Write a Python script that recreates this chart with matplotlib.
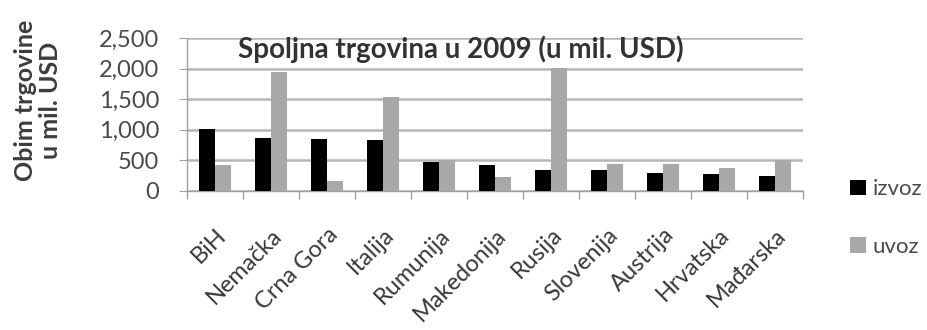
import matplotlib
matplotlib.use("Agg")
import matplotlib.pyplot as plt
import matplotlib.transforms as mtransforms
import numpy as np
from matplotlib.ticker import FuncFormatter, FixedLocator

plt.rcParams['font.family'] = ['Lato', 'DejaVu Sans']

countries = ["BiH", "Nemačka", "Crna Gora", "Italija", "Rumunija", "Makedonija",
             "Rusija", "Slovenija", "Austrija", "Hrvatska", "Mađarska"]
izvoz = [1010, 870, 850, 830, 475, 425, 345, 345, 295, 280, 250]
uvoz = [425, 1945, 160, 1540, 500, 230, 2010, 440, 440, 375, 500]
yticks = [0, 500, 1000, 1500, 2000, 2500]

W, H = 928, 330
fig = plt.figure(figsize=(W / 100, H / 100), dpi=100)
ax = fig.add_axes([187 / W, 1 - 191 / H, (803 - 187) / W, (191 - 38) / H])

x = np.arange(len(countries))
w = 0.29
ax.bar(x - w / 2, izvoz, w, color="black", label="izvoz", zorder=3)
ax.bar(x + w / 2, uvoz, w, color="#a8a8a8", label="uvoz", zorder=3)

ax.set_xlim(-0.5, len(countries) - 0.5)
ax.set_ylim(0, 2500)
ax.set_yticks(yticks)
ax.yaxis.set_major_formatter(FuncFormatter(lambda v, p: f"{int(v):,}"))
ax.grid(axis="y", color="#b5b5b5", linewidth=1.8, zorder=0)

ax.set_xticks(x)
ax.set_xticklabels(countries, rotation=45, ha="right", va="top",
                   rotation_mode="anchor", fontsize=17, color="#383838")
shift = mtransforms.ScaledTranslation(4 / 100, 0, fig.dpi_scale_trans)
for lbl in ax.get_xticklabels():
    lbl.set_transform(lbl.get_transform() + shift)
ax.xaxis.set_minor_locator(FixedLocator(np.arange(-0.5, len(countries), 1)))
ax.tick_params(axis="x", which="major", length=0, pad=24)
ax.tick_params(axis="x", which="minor", length=6, color="#a0a0a0", width=1)
ax.tick_params(axis="y", length=6, color="#a0a0a0", labelsize=17,
               labelcolor="#4a4a4a", pad=14)

for s in ["top", "right"]:
    ax.spines[s].set_visible(False)
for s in ["left", "bottom"]:
    ax.spines[s].set_color("#a0a0a0")
    ax.spines[s].set_linewidth(1)

fig.text(461 / W, 1 - 49 / H, "Spoljna trgovina u 2009 (u mil. USD)",
         ha="center", va="center", fontsize=20, fontweight="bold", color="#333333")
fig.text(38 / W, 1 - 100 / H, "Obim trgovine\nu mil. USD", rotation=90,
         ha="center", va="center", fontsize=18, fontweight="bold", color="#3c3c3c",
         linespacing=1.1)

ax.legend(loc="center left", bbox_to_anchor=(839 / W, 1 - 218 / H),
          bbox_transform=fig.transFigure, frameon=False, fontsize=16,
          handlelength=0.7, handleheight=0.7, handletextpad=0.3,
          labelspacing=1.7, labelcolor="#4a4a4a", borderpad=0)

fig.savefig("out.png", dpi=100)
